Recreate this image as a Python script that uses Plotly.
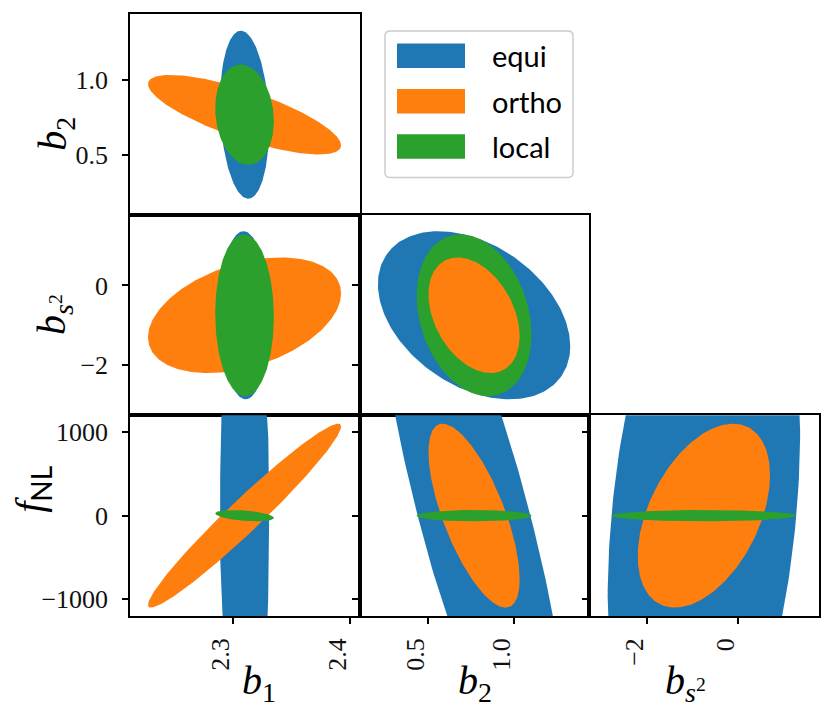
import numpy as np
import plotly.graph_objects as go
from plotly.subplots import make_subplots

# parameters and fiducial values
params = ["b1", "b2", "bs2", "fNL"]
fiducial = [2.31, 0.77, -0.7486, 0.0]

models = ["equi", "ortho", "local"]
colors = ["#1f77b4", "#ff7f0e", "#2ca02c"]

# half extent of each ellipse along every parameter
extent_equi = [0.021, 0.559, 2.11, 3630.0]
extent_ortho = [0.0826, 0.265, 1.45, 1100.0]
extent_local = [0.0251, 0.334, 2.03, 68.0]
extents = [extent_equi, extent_ortho, extent_local]

# correlation coefficient of every parameter pair
pairs = [(0, 1), (0, 2), (0, 3), (1, 2), (1, 3), (2, 3)]
corr_equi = [-0.15, -0.04, 0.0, -0.37, -0.81, 0.28]
corr_ortho = [-0.77, 0.38, 0.97, -0.36, -0.69, 0.44]
corr_local = [-0.13, -0.02, -0.40, -0.24, 0.0, 0.0]
corrs = [corr_equi, corr_ortho, corr_local]

# drawing order (back to front), default and exceptions
default_order = [0, 1, 2]
order_exceptions = {(1, 2): [0, 2, 1]}

axis_ranges = [[2.212, 2.4085], [0.105, 1.44], [-3.26, 1.775], [-1200, 1200]]
tick_vals = [[2.3, 2.4], [0.5, 1.0], [-2, 0], [-1000, 0, 1000]]
tick_text = [["2.3", "2.4"], ["0.5", "1.0"], ["−2", "0"], ["−1000", "0", "1000"]]
axis_labels = [
    "<i>b</i><sub>1</sub>",
    "<i>b</i><sub>2</sub>",
    "<i>b</i><sub><i>s</i><sup>2</sup></sub>",
    "<i>f</i><sub><span style='font-family:Lato'>NL</span></sub>",
]

W, H = 831, 711
OFF = 8  # page offset of the figure in the browser
ML, MR, MT, MB = 130 - OFF, 12 + OFF, 12 - OFF, 95 + OFF
PW, PH = W - ML - MR, H - MT - MB

serif = "Liberation Serif"
sans = "Lato"


def px(x):
    return (x - OFF - ML) / PW


def py(y):
    return (H - MB - (y - OFF)) / PH


def ellipse(ix, iy, m):
    k = pairs.index((ix, iy))
    a, b = extents[m][ix], extents[m][iy]
    r = corrs[m][k]
    cov = np.array([[a * a, r * a * b], [r * a * b, b * b]])
    L = np.linalg.cholesky(cov)
    t = np.linspace(0, 2 * np.pi, 240)
    pts = L @ np.vstack([np.cos(t), np.sin(t)])
    return pts[0] + fiducial[ix], pts[1] + fiducial[iy]


fig = make_subplots(
    rows=3, cols=3,
    specs=[[{}, None, None], [{}, {}, None], [{}, {}, {}]],
    horizontal_spacing=0, vertical_spacing=0,
)

for row in range(1, 4):
    iy = row
    for col in range(1, 4):
        ix = col - 1
        if ix >= iy:
            continue
        for m in order_exceptions.get((ix, iy), default_order):
            ex, ey = ellipse(ix, iy, m)
            fig.add_trace(
                go.Scatter(x=ex, y=ey, mode="lines", fill="toself",
                           fillcolor=colors[m], line=dict(width=0, color=colors[m]),
                           name=models[m], showlegend=False, hoverinfo="skip"),
                row=row, col=col,
            )
        bottom = row == 3
        fig.update_xaxes(
            range=axis_ranges[ix], tickvals=tick_vals[ix], ticktext=tick_text[ix],
            ticks="outside" if bottom else "", showticklabels=bottom,
            tickangle=-90, ticklabelstandoff=4, ticklabelshift=-12,
            row=row, col=col,
        )
        fig.update_yaxes(
            range=axis_ranges[iy], tickvals=tick_vals[iy], ticktext=tick_text[iy],
            ticks="outside", showticklabels=(col == 1),
            ticklabelstandoff=9, row=row, col=col,
        )

axis_style = dict(showgrid=False, zeroline=False, showline=True, mirror=True,
                  linecolor="black", linewidth=1.5, ticklen=6, tickwidth=1.5, tickcolor="black",
                  tickfont=dict(family=serif, size=26, color="#111"))
fig.update_xaxes(**axis_style)
fig.update_yaxes(**axis_style)

# axis labels
annotations = []
ylabel_pos = [(28, 113), (27, 314), (5, 515)]
for i, (xc, yc) in enumerate(ylabel_pos):
    annotations.append(dict(text=axis_labels[i + 1], x=px(xc), y=py(yc), xref="paper", yref="paper",
                            textangle=-90, showarrow=False, font=dict(family=serif, size=40, color="black")))
col_centers = [240, 475, 708]
for i, xc in enumerate(col_centers):
    annotations.append(dict(text=axis_labels[i], x=px(xc), y=py(656), xref="paper", yref="paper",
                            yanchor="top", showarrow=False, font=dict(family=serif, size=40, color="black")))

# legend drawn by hand to get matplotlib-like patches
shapes = []
bx0, bx1, by0, by1, rr = 385, 573, 29, 176, 5
path = (f"M{px(bx0 + rr)},{py(by0)} L{px(bx1 - rr)},{py(by0)} Q{px(bx1)},{py(by0)} {px(bx1)},{py(by0 + rr)} "
        f"L{px(bx1)},{py(by1 - rr)} Q{px(bx1)},{py(by1)} {px(bx1 - rr)},{py(by1)} "
        f"L{px(bx0 + rr)},{py(by1)} Q{px(bx0)},{py(by1)} {px(bx0)},{py(by1 - rr)} "
        f"L{px(bx0)},{py(by0 + rr)} Q{px(bx0)},{py(by0)} {px(bx0 + rr)},{py(by0)} Z")
shapes.append(dict(type="path", path=path, xref="paper", yref="paper",
                   line=dict(color="#cccccc", width=1.5), fillcolor="rgba(255,255,255,0.8)"))
legend_rows = [54, 99.5, 145]
for m, yc in enumerate(legend_rows):
    shapes.append(dict(type="rect", xref="paper", yref="paper",
                       x0=px(397), x1=px(465), y0=py(yc - 12.3), y1=py(yc + 12.3),
                       fillcolor=colors[m], line=dict(width=0)))
    annotations.append(dict(text=models[m], x=px(490), y=py(yc), xref="paper", yref="paper",
                            xanchor="left", yanchor="middle", showarrow=False,
                            font=dict(family=sans, size=29, color="black")))

fig.update_layout(
    width=W, height=H,
    margin=dict(l=ML, r=MR, t=MT, b=MB),
    font=dict(family=serif, color="black"),
    plot_bgcolor="white", paper_bgcolor="white",
    showlegend=False,
    shapes=shapes, annotations=annotations,
)

fig.write_html("out.html")
